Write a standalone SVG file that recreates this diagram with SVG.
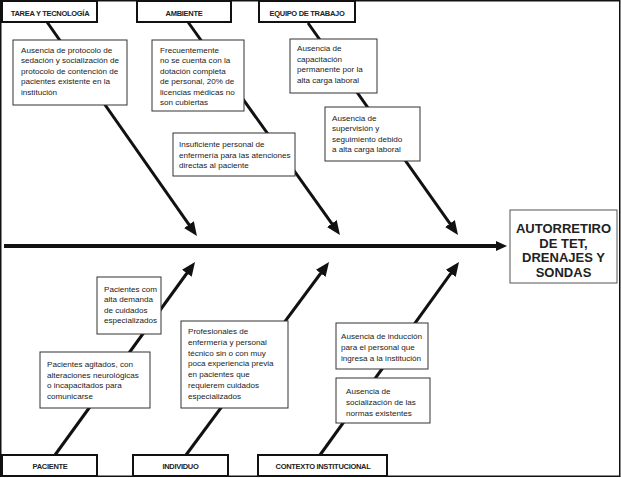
<svg xmlns="http://www.w3.org/2000/svg" width="621" height="478" viewBox="0 0 621 478">
<defs>
<marker id="ah" markerUnits="userSpaceOnUse" markerWidth="16" markerHeight="14" viewBox="0 0 16 14" refX="1" refY="6" orient="auto">
<path d="M0,0 L14,6 L0,12 z" fill="#111"/>
</marker>
<marker id="ahm" markerUnits="userSpaceOnUse" markerWidth="12" markerHeight="12" viewBox="0 0 12 12" refX="1" refY="5" orient="auto">
<path d="M0,0 L11,5 L0,10 z" fill="#111"/>
</marker>
<style>
.cat{fill:#fff;stroke:#111;stroke-width:2}
.box{fill:#fff;stroke:#333;stroke-width:1}
.res{fill:#fff;stroke:#555;stroke-width:1}
.ct{font-family:"Liberation Sans",Arial,sans-serif;font-size:7.5px;font-weight:bold;letter-spacing:-0.3px;fill:#222;text-anchor:middle}
.t{font-family:"Liberation Sans",Arial,sans-serif;font-size:8.1px;fill:#222}
.rt{font-family:"Liberation Sans",Arial,sans-serif;font-size:13px;font-weight:bold;fill:#222;text-anchor:middle}
.ln{stroke:#111;stroke-width:3;fill:none;marker-end:url(#ah)}
.ax{stroke:#111;stroke-width:4;fill:none;marker-end:url(#ahm)}
</style>
</defs>
<rect x="0" y="0" width="621" height="478" fill="#fff"/>
<rect x="0.75" y="0.75" width="619" height="475.5" fill="none" stroke="#111" stroke-width="1.5"/>

<g id="connectors">
<line class="ax" x1="4" y1="246" x2="497" y2="246"/>
<line class="ln" x1="47" y1="22" x2="189.5" y2="225.4"/>
<line class="ln" x1="188" y1="22" x2="332.4" y2="224.4"/>
<line class="ln" x1="308" y1="23" x2="450.5" y2="224.4"/>
<line class="ln" x1="55" y1="455" x2="187.4" y2="272.5"/>
<line class="ln" x1="186" y1="455" x2="321.3" y2="272.5"/>
<line class="ln" x1="320" y1="455" x2="451.4" y2="272.6"/>
</g>

<g id="cat-tarea">
<rect class="cat" x="2" y="1" width="95" height="21"/>
<text class="ct" x="50" y="16">TAREA Y TECNOLOGÍA</text>
</g>
<g id="cat-ambiente">
<rect class="cat" x="137" y="1" width="94" height="21"/>
<text class="ct" x="184" y="16">AMBIENTE</text>
</g>
<g id="cat-equipo">
<rect class="cat" x="259" y="1" width="96" height="21"/>
<text class="ct" x="307" y="16">EQUIPO DE TRABAJO</text>
</g>
<g id="cat-paciente">
<rect class="cat" x="2" y="455" width="95" height="21"/>
<text class="ct" x="50" y="468.5">PACIENTE</text>
</g>
<g id="cat-individuo">
<rect class="cat" x="133" y="455" width="95" height="21"/>
<text class="ct" x="180.5" y="468.5">INDIVIDUO</text>
</g>
<g id="cat-contexto">
<rect class="cat" x="258" y="455" width="129" height="21"/>
<text class="ct" x="323" y="468.5">CONTEXTO INSTITUCIONAL</text>
</g>

<g id="c-protocolo">
<rect class="box" x="13" y="40" width="114" height="65"/>
<text class="t" x="21" y="52.5">Ausencia de protocolo de</text>
<text class="t" x="21" y="63">sedación y socialización de</text>
<text class="t" x="21" y="73.5">protocolo de contención de</text>
<text class="t" x="21" y="84">pacientes existente en la</text>
<text class="t" x="21" y="94.5">institución</text>
</g>
<g id="c-dotacion">
<rect class="box" x="152" y="40" width="92" height="71"/>
<text class="t" x="160" y="52.5">Frecuentemente</text>
<text class="t" x="160" y="63">no se cuenta con la</text>
<text class="t" x="160" y="73.5">dotación completa</text>
<text class="t" x="160" y="84">de personal, 20% de</text>
<text class="t" x="160" y="94.5">licencias médicas no</text>
<text class="t" x="160" y="105">son cubiertas</text>
</g>
<g id="c-capacitacion">
<rect class="box" x="290" y="39" width="87" height="54"/>
<text class="t" x="297" y="51">Ausencia de</text>
<text class="t" x="297" y="61.5">capacitación</text>
<text class="t" x="297" y="72">permanente por la</text>
<text class="t" x="297" y="82.5">alta carga laboral</text>
</g>
<g id="c-supervision">
<rect class="box" x="325" y="107" width="95" height="54"/>
<text class="t" x="332" y="120.5">Ausencia de</text>
<text class="t" x="332" y="131">supervisión y</text>
<text class="t" x="332" y="141.5">seguimiento debido</text>
<text class="t" x="332" y="152">a alta carga laboral</text>
</g>
<g id="c-insuficiente">
<rect class="box" x="173" y="133" width="122" height="43"/>
<text class="t" x="179" y="147">Insuficiente personal de</text>
<text class="t" x="179" y="157.5">enfermería para las atenciones</text>
<text class="t" x="179" y="168">directas al paciente</text>
</g>
<g id="c-demanda">
<rect class="box" x="97" y="277" width="64" height="57"/>
<text class="t" x="104" y="291.5">Pacientes com</text>
<text class="t" x="104" y="302">alta demanda</text>
<text class="t" x="104" y="312.5">de cuidados</text>
<text class="t" x="104" y="323">especializados</text>
</g>
<g id="c-agitados">
<rect class="box" x="40" y="352" width="110" height="56"/>
<text class="t" x="47" y="367">Pacientes agitados, con</text>
<text class="t" x="47" y="377.5">alteraciones neurológicas</text>
<text class="t" x="47" y="388">o incapacitados para</text>
<text class="t" x="47" y="398.5">comunicarse</text>
</g>
<g id="c-profesionales">
<rect class="box" x="181" y="321" width="107" height="87"/>
<text class="t" x="188" y="334">Profesionales de</text>
<text class="t" x="188" y="344.8">enfermería y personal</text>
<text class="t" x="188" y="355.6">técnico sin o con muy</text>
<text class="t" x="188" y="366.4">poca experiencia previa</text>
<text class="t" x="188" y="377.2">en pacientes que</text>
<text class="t" x="188" y="388">requierem cuidados</text>
<text class="t" x="188" y="398.8">especializados</text>
</g>
<g id="c-induccion">
<rect class="box" x="336" y="323" width="92" height="46"/>
<text class="t" x="341" y="338.5">Ausencia de inducción</text>
<text class="t" x="341" y="349.5">para el personal que</text>
<text class="t" x="341" y="360.5">ingresa a la institución</text>
</g>
<g id="c-normas">
<rect class="box" x="336" y="378" width="94" height="45"/>
<text class="t" x="346" y="393.5">Ausencia de</text>
<text class="t" x="346" y="404.5">socialización de las</text>
<text class="t" x="346" y="415.5">normas existentes</text>
</g>
<g id="resultado">
<rect class="res" x="510" y="210" width="107" height="73"/>
<text class="rt" x="563.5" y="233">AUTORRETIRO</text>
<text class="rt" x="563.5" y="247.5">DE TET,</text>
<text class="rt" x="563.5" y="262">DRENAJES Y</text>
<text class="rt" x="563.5" y="276.5">SONDAS</text>
</g>
</svg>
